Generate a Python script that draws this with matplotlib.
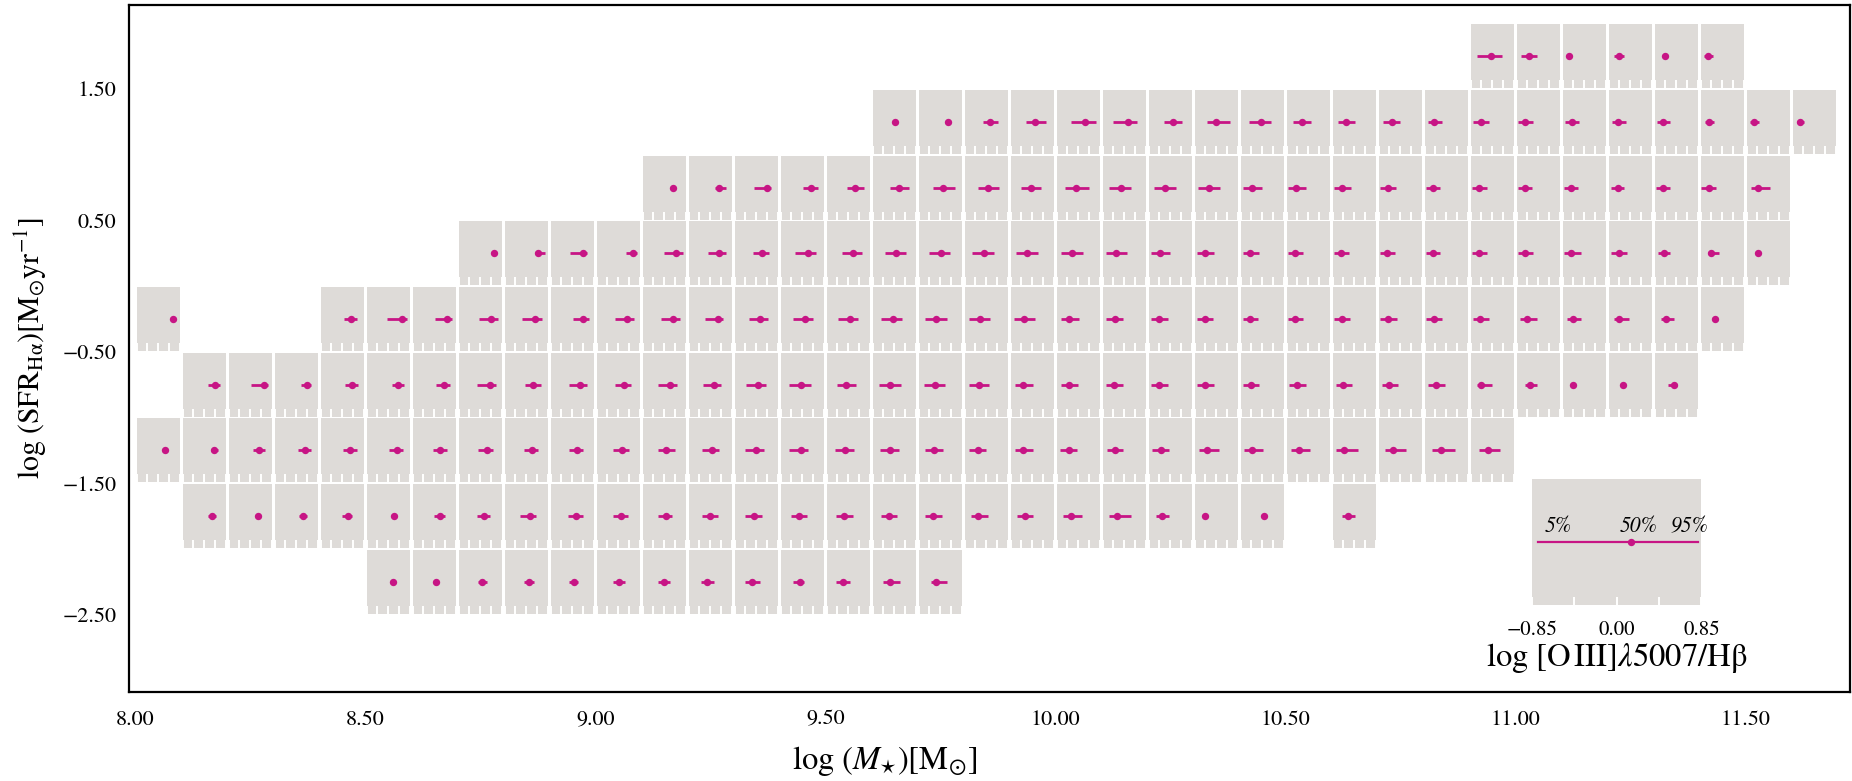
import numpy as np
import matplotlib
matplotlib.use('Agg')
import matplotlib.pyplot as plt
from matplotlib.ticker import FuncFormatter

plt.rcParams['font.family'] = 'STIXGeneral'
plt.rcParams['mathtext.fontset'] = 'stix'

# lower mass edge of each bin and the 5/50/95 percentiles of log [OIII]/Hb, one set per SFR row
# row log SFR = 1.75
mass_r175 = [10.9, 11.0, 11.1, 11.2, 11.3, 11.4]
p50_r175 = [-0.05, -0.36, -0.58, -0.42, -0.45, -0.56]
p05_r175 = [-0.61, -0.66, -0.58, -0.64, -0.45, -0.71]
p95_r175 = [0.39, -0.05, -0.58, -0.25, -0.45, -0.37]

# row 1.25
mass_r125 = [9.6, 9.7, 9.8, 9.9, 10.0, 10.1, 10.2, 10.3, 10.4, 10.5, 10.6,
             10.7, 10.8, 10.9, 11.0, 11.1, 11.2, 11.3, 11.4, 11.5, 11.6]
p50_r125 = [0.04, 0.30, 0.15, 0.10, 0.25, 0.15, 0.11, 0.01, -0.04, -0.25, -0.31,
            -0.33, -0.46, -0.45, -0.52, -0.49, -0.49, -0.52, -0.51, -0.55, -0.55]
p05_r125 = [0.04, 0.30, -0.14, -0.23, -0.30, -0.45, -0.24, -0.38, -0.51, -0.59, -0.62,
            -0.66, -0.72, -0.75, -0.78, -0.75, -0.73, -0.76, -0.66, -0.73, -0.68]
p95_r125 = [0.04, 0.30, 0.47, 0.54, 0.69, 0.50, 0.47, 0.55, 0.33, 0.10, 0.03,
            -0.02, -0.16, -0.14, -0.20, -0.22, -0.18, -0.23, -0.34, -0.35, -0.39]

# row 0.75
mass_r075 = [9.1, 9.2, 9.3, 9.4, 9.5, 9.6, 9.7, 9.8, 9.9, 10.0, 10.1, 10.2, 10.3,
             10.4, 10.5, 10.6, 10.7, 10.8, 10.9, 11.0, 11.1, 11.2, 11.3, 11.4, 11.5]
p50_r075 = [0.34, 0.34, 0.44, 0.33, 0.28, 0.20, 0.11, 0.06, -0.04, -0.07, -0.14, -0.21, -0.28,
            -0.40, -0.46, -0.46, -0.49, -0.52, -0.52, -0.52, -0.53, -0.49, -0.50, -0.53, -0.39]
p05_r075 = [0.34, 0.20, -0.07, 0.03, -0.06, -0.16, -0.30, -0.31, -0.44, -0.50, -0.61, -0.65, -0.71,
            -0.74, -0.78, -0.78, -0.79, -0.79, -0.78, -0.79, -0.78, -0.75, -0.79, -0.84, -0.69]
p95_r075 = [0.34, 0.64, 0.57, 0.62, 0.61, 0.58, 0.57, 0.50, 0.35, 0.41, 0.27, 0.24, 0.14,
            -0.01, -0.10, -0.12, -0.17, -0.23, -0.20, -0.24, -0.24, -0.23, -0.23, -0.24, 0.07]

# row 0.25
mass_r025 = [8.7, 8.8, 8.9, 9.0, 9.1, 9.2, 9.3, 9.4, 9.5, 9.6, 9.7, 9.8, 9.9, 10.0, 10.1,
             10.2, 10.3, 10.4, 10.5, 10.6, 10.7, 10.8, 10.9, 11.0, 11.1, 11.2, 11.3, 11.4, 11.5]
p50_r025 = [0.55, 0.48, 0.42, 0.57, 0.48, 0.35, 0.23, 0.23, 0.20, 0.07, 0.03, -0.10, -0.20, -0.24, -0.31,
            -0.41, -0.44, -0.48, -0.52, -0.50, -0.52, -0.52, -0.50, -0.50, -0.50, -0.45, -0.46, -0.43, -0.39]
p05_r025 = [0.55, 0.35, -0.08, 0.30, 0.01, -0.07, -0.13, -0.30, -0.23, -0.35, -0.45, -0.57, -0.62, -0.67, -0.72,
            -0.75, -0.75, -0.77, -0.79, -0.78, -0.79, -0.81, -0.78, -0.79, -0.79, -0.75, -0.73, -0.55, -0.39]
p95_r025 = [0.55, 0.75, 0.57, 0.72, 0.74, 0.64, 0.52, 0.54, 0.54, 0.47, 0.40, 0.31, 0.21, 0.17, 0.11,
            0.00, -0.09, -0.11, -0.20, -0.20, -0.20, -0.24, -0.19, -0.20, -0.14, -0.14, -0.23, -0.12, -0.39]

# row -0.25
mass_m025 = [8.0, 8.4, 8.5, 8.6, 8.7, 8.8, 8.9, 9.0, 9.1, 9.2, 9.3, 9.4, 9.5, 9.6, 9.7, 9.8,
             9.9, 10.0, 10.1, 10.2, 10.3, 10.4, 10.5, 10.6, 10.7, 10.8, 10.9, 11.0, 11.1, 11.2, 11.3, 11.4]
p50_m025 = [0.57, 0.35, 0.55, 0.52, 0.42, 0.35, 0.44, 0.33, 0.34, 0.30, 0.14, 0.11, 0.06, -0.04, -0.16, -0.23,
            -0.31, -0.35, -0.38, -0.45, -0.45, -0.48, -0.50, -0.48, -0.46, -0.48, -0.49, -0.42, -0.45, -0.45, -0.39, -0.29]
p05_m025 = [0.57, 0.08, -0.04, 0.03, -0.04, -0.16, 0.03, -0.11, -0.13, -0.20, -0.28, -0.38, -0.40, -0.50, -0.61, -0.68,
            -0.71, -0.69, -0.72, -0.74, -0.74, -0.77, -0.78, -0.78, -0.79, -0.78, -0.75, -0.72, -0.69, -0.63, -0.58, -0.29]
p95_m025 = [0.57, 0.58, 0.72, 0.69, 0.68, 0.64, 0.67, 0.62, 0.64, 0.52, 0.47, 0.44, 0.38, 0.30, 0.27, 0.16,
            0.10, 0.03, -0.04, -0.10, -0.14, -0.17, -0.20, -0.17, -0.14, -0.17, -0.13, -0.04, -0.14, -0.03, -0.10, -0.29]

# row -0.75
mass_m075 = [8.1, 8.2, 8.3, 8.4, 8.5, 8.6, 8.7, 8.8, 8.9, 9.0, 9.1, 9.2, 9.3, 9.4, 9.5, 9.6, 9.7,
             9.8, 9.9, 10.0, 10.1, 10.2, 10.3, 10.4, 10.5, 10.6, 10.7, 10.8, 10.9, 11.0, 11.1, 11.2, 11.3]
p50_m075 = [0.41, 0.54, 0.44, 0.37, 0.40, 0.37, 0.38, 0.28, 0.31, 0.21, 0.23, 0.16, 0.08, -0.03, -0.08, -0.16, -0.21,
            -0.28, -0.35, -0.37, -0.40, -0.42, -0.42, -0.44, -0.45, -0.42, -0.42, -0.40, -0.43, -0.32, -0.43, -0.29, -0.07]
p05_m075 = [0.13, 0.04, 0.17, 0.11, 0.16, 0.06, -0.11, -0.03, -0.14, -0.13, -0.24, -0.30, -0.40, -0.50, -0.45, -0.58, -0.64,
            -0.67, -0.67, -0.69, -0.72, -0.75, -0.74, -0.74, -0.76, -0.72, -0.73, -0.71, -0.59, -0.53, -0.43, -0.29, -0.33]
p95_m075 = [0.61, 0.68, 0.58, 0.64, 0.61, 0.62, 0.62, 0.57, 0.58, 0.52, 0.51, 0.41, 0.40, 0.33, 0.30, 0.25, 0.18,
            0.10, 0.03, 0.00, -0.04, -0.07, -0.08, -0.13, -0.10, -0.07, -0.07, -0.06, 0.00, -0.03, -0.43, -0.29, 0.03]

# row -1.25
mass_m125 = [8.0, 8.1, 8.2, 8.3, 8.4, 8.5, 8.6, 8.7, 8.8, 8.9, 9.0, 9.1, 9.2, 9.3, 9.4,
             9.5, 9.6, 9.7, 9.8, 9.9, 10.0, 10.1, 10.2, 10.3, 10.4, 10.5, 10.6, 10.7, 10.8, 10.9]
p50_m125 = [0.27, 0.40, 0.34, 0.33, 0.30, 0.33, 0.24, 0.27, 0.23, 0.18, 0.14, 0.07, 0.08, 0.00, -0.06,
            -0.13, -0.18, -0.24, -0.34, -0.35, -0.37, -0.38, -0.38, -0.38, -0.41, -0.36, -0.39, -0.27, -0.22, -0.16]
p05_m125 = [0.27, 0.25, 0.11, 0.06, 0.04, 0.03, -0.04, -0.08, -0.07, -0.14, -0.20, -0.24, -0.34, -0.45, -0.51,
            -0.52, -0.54, -0.58, -0.67, -0.67, -0.71, -0.69, -0.71, -0.69, -0.72, -0.68, -0.71, -0.60, -0.55, -0.53]
p95_m125 = [0.27, 0.54, 0.60, 0.60, 0.57, 0.58, 0.52, 0.52, 0.48, 0.42, 0.42, 0.41, 0.35, 0.30, 0.23,
            0.24, 0.17, 0.13, 0.01, 0.03, -0.03, -0.04, -0.04, 0.11, 0.03, 0.09, 0.14, 0.23, 0.36, 0.32]

# row -1.75
mass_m175 = [8.1, 8.2, 8.3, 8.4, 8.5, 8.6, 8.7, 8.8, 8.9, 9.0, 9.1, 9.2, 9.3,
             9.4, 9.5, 9.6, 9.7, 9.8, 9.9, 10.0, 10.1, 10.2, 10.3, 10.4, 10.6]
p50_m175 = [0.30, 0.31, 0.27, 0.21, 0.24, 0.23, 0.13, 0.16, 0.13, 0.11, 0.06, -0.01, -0.10,
            -0.11, -0.16, -0.21, -0.28, -0.33, -0.30, -0.30, -0.30, -0.34, -0.42, 0.07, -0.25]
p05_m175 = [0.16, 0.31, 0.11, 0.01, 0.24, -0.01, -0.11, -0.24, -0.18, -0.21, -0.24, -0.33, -0.42,
            -0.44, -0.48, -0.52, -0.60, -0.61, -0.60, -0.60, -0.60, -0.57, -0.42, 0.07, -0.49]
p95_m175 = [0.45, 0.31, 0.42, 0.38, 0.24, 0.41, 0.37, 0.37, 0.42, 0.40, 0.31, 0.30, 0.23,
            0.18, 0.17, 0.10, 0.06, 0.06, 0.04, 0.14, 0.25, -0.03, -0.42, 0.07, 0.04]

# row -2.25
mass_m225 = [8.5, 8.6, 8.7, 8.8, 8.9, 9.0, 9.1, 9.2, 9.3, 9.4, 9.5, 9.6, 9.7]
p50_m225 = [0.17, 0.06, 0.08, 0.11, 0.07, 0.04, -0.01, -0.11, -0.16, -0.08, -0.20, -0.17, -0.16]
p05_m225 = [0.17, 0.06, -0.07, -0.10, -0.11, -0.21, -0.24, -0.37, -0.44, -0.35, -0.48, -0.45, -0.35]
p95_m225 = [0.17, 0.06, 0.27, 0.31, 0.24, 0.28, 0.21, 0.13, 0.14, 0.07, 0.08, 0.21, 0.27]

sfr_centers = [1.75, 1.25, 0.75, 0.25, -0.25, -0.75, -1.25, -1.75, -2.25]

# legend cell: 5%, 50%, 95% of an example distribution
legend_pcts = [-0.79, 0.14, 0.82]
legend_names = ['5%', '50%', '95%']

rows = [
    (mass_r175, p05_r175, p50_r175, p95_r175),
    (mass_r125, p05_r125, p50_r125, p95_r125),
    (mass_r075, p05_r075, p50_r075, p95_r075),
    (mass_r025, p05_r025, p50_r025, p95_r025),
    (mass_m025, p05_m025, p50_m025, p95_m025),
    (mass_m075, p05_m075, p50_m075, p95_m075),
    (mass_m125, p05_m125, p50_m125, p95_m125),
    (mass_m175, p05_m175, p50_m175, p95_m175),
    (mass_m225, p05_m225, p50_m225, p95_m225),
]

pink = '#c71585'
cell_bg = '#dedbd8'
cell_w = 0.1
cell_h = 0.5
gap_x = 0.0059
gap_y = 0.013
inner_lim = (-0.85, 0.85)
inner_ticks = np.linspace(-0.85, 0.85, 5)

# two decimals with a real minus sign
fmt = FuncFormatter(lambda v, pos: f'{v:.2f}'.replace('-', '\u2212'))

fig = plt.figure(figsize=(18.52, 7.81), dpi=100)
ax = fig.add_axes([0.06965, 0.11396, 0.9293, 0.87964])
ax.set_xlim(7.9865, 11.728)
ax.set_ylim(-3.089, 2.139)
ax.set_xticks([8.0, 8.5, 9.0, 9.5, 10.0, 10.5, 11.0, 11.5])
ax.set_yticks([-2.5, -1.5, -0.5, 0.5, 1.5])
ax.xaxis.set_major_formatter(fmt)
ax.yaxis.set_major_formatter(fmt)
ax.tick_params(axis='both', length=0, labelsize=16)
ax.tick_params(axis='x', pad=13)
ax.tick_params(axis='y', pad=9)
for sp in ax.spines.values():
    sp.set_linewidth(1.6)
ax.set_xlabel(r'$\log\,(M_{\star})[\mathrm{M}_{\odot}]$', fontsize=23.5, labelpad=4)
ax.xaxis.set_label_coords(0.439, -0.075)
ax.set_ylabel(r'$\log\,(\mathrm{SFR}_{\mathrm{H\alpha}})[\mathrm{M}_{\odot}\mathrm{yr}^{-1}]$',
              fontsize=21.5, labelpad=10)


def style_cell(ins):
    ins.set_facecolor(cell_bg)
    for sp in ins.spines.values():
        sp.set_visible(False)
    ins.set_xlim(*inner_lim)
    ins.set_ylim(-1, 1)
    ins.set_xticks(inner_ticks)
    ins.set_yticks([])
    ins.tick_params(axis='x', direction='in', color='white', length=5.5, width=1.4,
                    labelbottom=False)


for s, (masses, lo, med, hi) in zip(sfr_centers, rows):
    for m, a, b, c in zip(masses, lo, med, hi):
        ins = ax.inset_axes([m + gap_x / 2, s - cell_h / 2 + gap_y / 2,
                             cell_w - gap_x, cell_h - gap_y], transform=ax.transData)
        style_cell(ins)
        ins.plot([a, c], [0, 0], color=pink, lw=2.0, solid_capstyle='butt')
        ins.plot([b], [0], 'o', color=pink, ms=5.3, mec='none')

# legend cell
leg = ax.inset_axes([11.036, -2.427, 0.369, 0.959], transform=ax.transData)
style_cell(leg)
leg.tick_params(axis='x', labelbottom=True, labelsize=15, pad=11)
leg.set_xticklabels(['\u22120.85', '', '0.00', '', '0.85'])
leg.plot([legend_pcts[0], legend_pcts[2]], [0, 0], color=pink, lw=1.6)
leg.plot([legend_pcts[1]], [0], 'o', color=pink, ms=5.3, mec='none')
for xt, name in zip([-0.59, 0.22, 0.73], legend_names):
    leg.text(xt, 0.24, name, fontsize=15.5, style='italic', ha='center', va='center')
leg.set_xlabel(r'$\log\,[\mathrm{O\,III}]\lambda5007/\mathrm{H\beta}$', fontsize=23.5, labelpad=1)

fig.savefig('out.png', dpi=100)
